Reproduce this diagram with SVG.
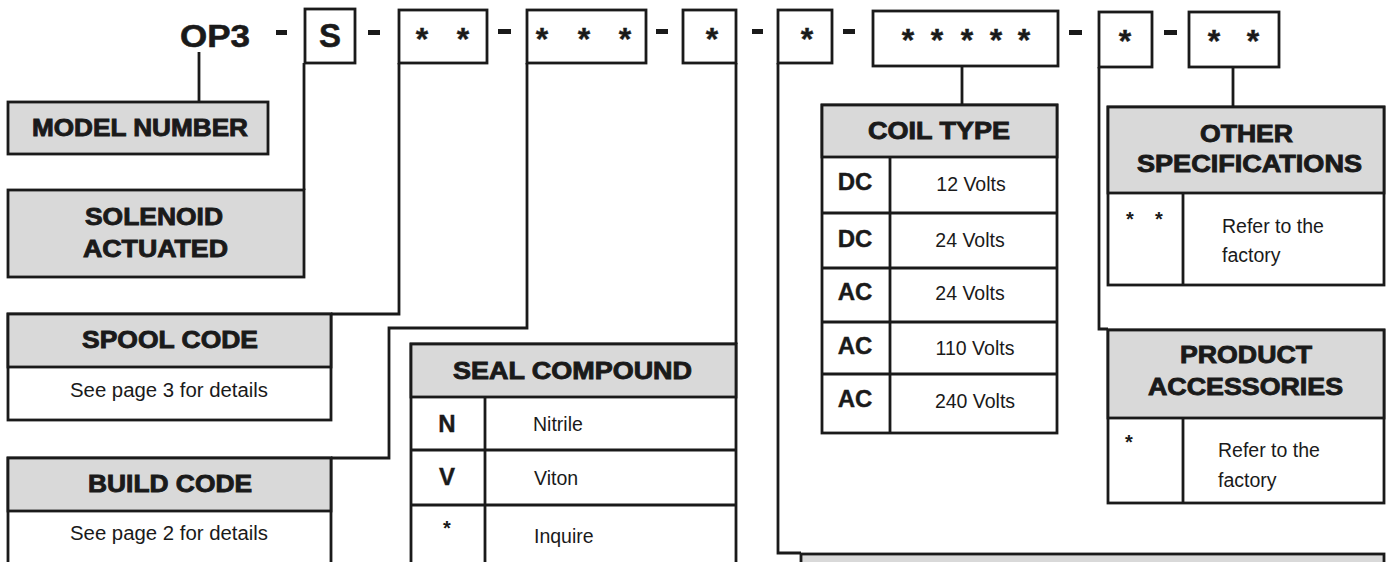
<svg xmlns="http://www.w3.org/2000/svg" width="1389" height="562" viewBox="0 0 1389 562">
<style>
.bg{fill:#ffffff}
.box{fill:#ffffff;stroke:#1a1a1a;stroke-width:2.8}
.hd{fill:#d9d9d9;stroke:#1a1a1a;stroke-width:2.8}
.ln{fill:none;stroke:#1a1a1a;stroke-width:2.8}
.h{font-family:"Liberation Sans",Arial,sans-serif;font-weight:bold;font-size:24px;fill:#1a1a1a;stroke:#1a1a1a;stroke-width:0.9;text-anchor:middle}
.code{font-family:"Liberation Sans",Arial,sans-serif;font-weight:bold;font-size:24px;fill:#1a1a1a;stroke:#1a1a1a;stroke-width:0.4;text-anchor:middle}
.t{font-family:"Liberation Sans",Arial,sans-serif;font-size:19.5px;fill:#1a1a1a}
.tc{font-family:"Liberation Sans",Arial,sans-serif;font-size:19.5px;fill:#1a1a1a;text-anchor:middle}
.st{font-family:"Liberation Sans",Arial,sans-serif;font-weight:bold;font-size:32px;fill:#1a1a1a;stroke:#1a1a1a;stroke-width:0.4;text-anchor:middle}
.sst{font-family:"Liberation Sans",Arial,sans-serif;font-weight:bold;font-size:20px;fill:#1a1a1a;text-anchor:middle}
.dash{fill:#1a1a1a}
</style>
<rect class="bg" x="0" y="0" width="1389" height="562"/>

<g id="code-row">
  <text x="215" y="47" font-family="Liberation Sans, Arial, sans-serif" font-weight="bold" font-size="32" fill="#1a1a1a" stroke="#1a1a1a" stroke-width="0.6" text-anchor="middle" textLength="70" lengthAdjust="spacingAndGlyphs">OP3</text>
  <rect class="dash" x="276" y="30" width="11" height="5"/>
  <rect class="box" x="305" y="9" width="50" height="54"/>
  <text x="330" y="47" font-family="Liberation Sans, Arial, sans-serif" font-weight="bold" font-size="33" fill="#1a1a1a" stroke="#1a1a1a" stroke-width="0.5" text-anchor="middle">S</text>
  <rect class="dash" x="368" y="30" width="12" height="5"/>
  <rect class="box" x="399" y="10" width="88" height="53"/>
  <text class="st" x="422" y="50">*</text><text class="st" x="463" y="50">*</text>
  <rect class="dash" x="498" y="29" width="13" height="5"/>
  <rect class="box" x="527" y="10" width="119" height="53"/>
  <text class="st" x="542" y="50">*</text><text class="st" x="584" y="50">*</text><text class="st" x="625" y="50">*</text>
  <rect class="dash" x="656" y="29" width="12" height="5"/>
  <rect class="box" x="683" y="10" width="53" height="53"/>
  <text class="st" x="712" y="50">*</text>
  <rect class="dash" x="752" y="29" width="11" height="5"/>
  <rect class="box" x="778" y="10" width="54" height="53"/>
  <text class="st" x="807" y="50">*</text>
  <rect class="dash" x="843" y="29" width="12" height="5"/>
  <rect class="box" x="873" y="11" width="185" height="55"/>
  <text class="st" x="908" y="51">*</text><text class="st" x="937" y="51">*</text><text class="st" x="967" y="51">*</text><text class="st" x="996" y="51">*</text><text class="st" x="1024" y="51">*</text>
  <rect class="dash" x="1069" y="30" width="13" height="5"/>
  <rect class="box" x="1099" y="12" width="53" height="55"/>
  <text class="st" x="1125" y="52">*</text>
  <rect class="dash" x="1164" y="30" width="13" height="5"/>
  <rect class="box" x="1189" y="12" width="90" height="55"/>
  <text class="st" x="1214" y="52">*</text><text class="st" x="1253" y="52">*</text>
</g>

<g id="connectors">
  <line class="ln" x1="199" y1="52" x2="199" y2="102"/>
  <line class="ln" x1="304" y1="63" x2="304" y2="190"/>
  <polyline class="ln" points="399,63 399,314 331,314"/>
  <polyline class="ln" points="527,63 527,328 389,328 389,458 331,458"/>
  <line class="ln" x1="736" y1="63" x2="736" y2="344"/>
  <polyline class="ln" points="778,63 778,553 801,553"/>
  <line class="ln" x1="962" y1="66" x2="962" y2="105"/>
  <polyline class="ln" points="1099,67 1099,329 1108,329"/>
  <line class="ln" x1="1233" y1="67" x2="1233" y2="107"/>
</g>

<g id="model-number">
  <rect class="hd" x="8" y="102" width="260" height="52"/>
  <text class="h" x="140" y="136" textLength="216" lengthAdjust="spacingAndGlyphs">MODEL NUMBER</text>
</g>

<g id="solenoid-actuated">
  <rect class="hd" x="8" y="190" width="296" height="87"/>
  <text class="h" x="154" y="225" textLength="138" lengthAdjust="spacingAndGlyphs">SOLENOID</text>
  <text class="h" x="155.5" y="257" textLength="145" lengthAdjust="spacingAndGlyphs">ACTUATED</text>
</g>

<g id="spool-code">
  <rect class="box" x="8" y="314" width="323" height="106"/>
  <rect class="hd" x="8" y="314" width="323" height="53"/>
  <text class="h" x="170" y="348" textLength="176" lengthAdjust="spacingAndGlyphs">SPOOL CODE</text>
  <text class="tc" x="169" y="397" textLength="198" lengthAdjust="spacingAndGlyphs">See page 3 for details</text>
</g>

<g id="build-code">
  <rect class="box" x="8" y="458" width="323" height="120"/>
  <rect class="hd" x="8" y="458" width="323" height="53"/>
  <text class="h" x="170" y="492" textLength="164" lengthAdjust="spacingAndGlyphs">BUILD CODE</text>
  <text class="tc" x="169" y="540" textLength="198" lengthAdjust="spacingAndGlyphs">See page 2 for details</text>
</g>

<g id="seal-compound">
  <rect class="box" x="411" y="344" width="325" height="240"/>
  <rect class="hd" x="411" y="344" width="325" height="53"/>
  <text class="h" x="572.5" y="379" textLength="239" lengthAdjust="spacingAndGlyphs">SEAL COMPOUND</text>
  <line class="ln" x1="485" y1="397" x2="485" y2="570"/>
  <line class="ln" x1="411" y1="450" x2="736" y2="450"/>
  <line class="ln" x1="411" y1="505" x2="736" y2="505"/>
  <text class="code" x="447" y="432">N</text>
  <text class="t" x="533" y="431">Nitrile</text>
  <text class="code" x="447" y="485">V</text>
  <text class="t" x="534" y="485">Viton</text>
  <text class="sst" x="447" y="535">*</text>
  <text class="t" x="534" y="543">Inquire</text>
</g>

<g id="coil-type">
  <rect class="box" x="822" y="105" width="235" height="328"/>
  <rect class="hd" x="822" y="105" width="235" height="52"/>
  <text class="h" x="939" y="139" textLength="142" lengthAdjust="spacingAndGlyphs">COIL TYPE</text>
  <line class="ln" x1="890" y1="157" x2="890" y2="433"/>
  <line class="ln" x1="822" y1="213" x2="1057" y2="213"/>
  <line class="ln" x1="822" y1="268" x2="1057" y2="268"/>
  <line class="ln" x1="822" y1="322" x2="1057" y2="322"/>
  <line class="ln" x1="822" y1="374" x2="1057" y2="374"/>
  <text class="code" x="855" y="190">DC</text>
  <text class="tc" x="971" y="191">12 Volts</text>
  <text class="code" x="855" y="247">DC</text>
  <text class="tc" x="970" y="247">24 Volts</text>
  <text class="code" x="855" y="300">AC</text>
  <text class="tc" x="970" y="300">24 Volts</text>
  <text class="code" x="855" y="354">AC</text>
  <text class="tc" x="975" y="355">110 Volts</text>
  <text class="code" x="855" y="407">AC</text>
  <text class="tc" x="975" y="408">240 Volts</text>
</g>

<g id="other-specifications">
  <rect class="box" x="1108" y="107" width="276" height="178"/>
  <rect class="hd" x="1108" y="107" width="276" height="86"/>
  <text class="h" x="1246.5" y="142" textLength="93" lengthAdjust="spacingAndGlyphs">OTHER</text>
  <text class="h" x="1249.5" y="172" textLength="225" lengthAdjust="spacingAndGlyphs">SPECIFICATIONS</text>
  <line class="ln" x1="1183" y1="193" x2="1183" y2="285"/>
  <text class="sst" x="1130" y="226">*</text>
  <text class="sst" x="1159" y="226">*</text>
  <text class="t" x="1222" y="233">Refer to the</text>
  <text class="t" x="1222" y="262">factory</text>
</g>

<g id="product-accessories">
  <rect class="box" x="1108" y="330" width="276" height="173"/>
  <rect class="hd" x="1108" y="330" width="276" height="88"/>
  <text class="h" x="1246" y="363" textLength="132" lengthAdjust="spacingAndGlyphs">PRODUCT</text>
  <text class="h" x="1245.5" y="395" textLength="195" lengthAdjust="spacingAndGlyphs">ACCESSORIES</text>
  <line class="ln" x1="1183" y1="418" x2="1183" y2="503"/>
  <text class="sst" x="1129" y="449">*</text>
  <text class="t" x="1218" y="457">Refer to the</text>
  <text class="t" x="1218" y="487">factory</text>
</g>

<g id="bottom-box">
  <rect class="hd" x="801" y="554" width="583" height="30"/>
</g>
</svg>
